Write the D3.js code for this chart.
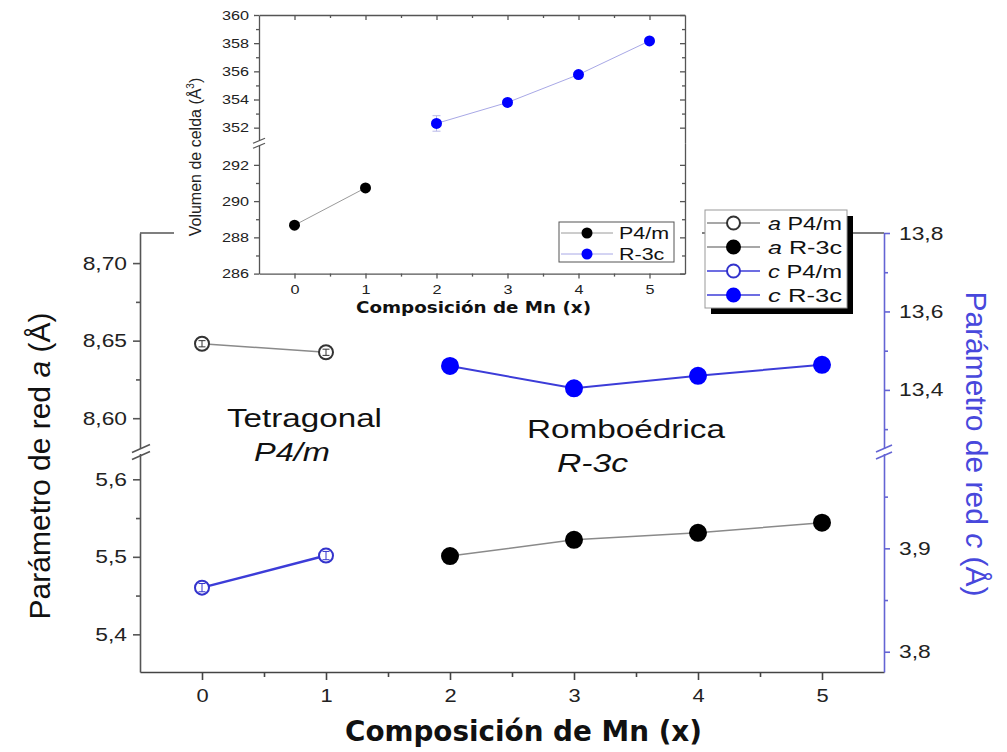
<!DOCTYPE html>
<html>
<head>
<meta charset="utf-8">
<script src="https://cdn.jsdelivr.net/npm/d3@7"></script>
<style>
  body { margin: 0; background: #fff; }
  svg { display: block; }
</style>
</head>
<body>
<svg id="chart" width="1007" height="752"></svg>
<script>
// ---- Data: Mn composition (x) ----
const compTetra = [0, 1];
const compRombo = [2, 3, 4, 5];

// lattice parameter a (Å)
const aP4m = [8.648, 8.6425];
const aP4mErr = [0.002, 0.002];
const aR3c = [5.501, 5.522, 5.531, 5.544];

// lattice parameter c (Å)
const cP4m = [3.862, 3.893];
const cP4mErr = [0.004, 0.004];
const cR3c = [13.461, 13.404, 13.436, 13.464];

// cell volume (Å³)
const volP4m = [288.67, 290.73];
const volR3c = [352.3, 353.79, 355.77, 358.16];
const volR3cErr = [0.55, 0.15, 0.15, 0.15];

// ---- Tick values / labels ----
const xTicks = [0, 1, 2, 3, 4, 5];
const xMinor = [0.5, 1.5, 2.5, 3.5, 4.5];
const aUpperTicks = [8.60, 8.65, 8.70];
const aUpperLabels = ["8,60", "8,65", "8,70"];
const aUpperMinor = [8.625, 8.675];
const aLowerTicks = [5.4, 5.5, 5.6];
const aLowerLabels = ["5,4", "5,5", "5,6"];
const aLowerMinor = [5.45, 5.55];
const cUpperTicks = [13.4, 13.6, 13.8];
const cUpperLabels = ["13,4", "13,6", "13,8"];
const cUpperMinor = [13.3, 13.5, 13.7];
const cLowerTicks = [3.8, 3.9];
const cLowerLabels = ["3,8", "3,9"];
const cLowerMinor = [3.85, 3.95];
const volUpperTicks = [352, 354, 356, 358, 360];
const volUpperMinor = [353, 355, 357, 359];
const volLowerTicks = [286, 288, 290, 292];
const volLowerMinor = [287, 289, 291];

const legendMain = [
  { sym: "a", name: " P4/m", line: "#8a8a8a", stroke: "#333", fill: "#fff" },
  { sym: "a", name: " R-3c", line: "#8a8a8a", stroke: "#000", fill: "#000" },
  { sym: "c", name: " P4/m", line: "#3c3cd8", stroke: "#3333cc", fill: "#fff" },
  { sym: "c", name: " R-3c", line: "#3c3cd8", stroke: "#0000ff", fill: "#0000ff" }
];
const legendInset = [
  { name: "P4/m", line: "#9a9a9a", fill: "#000" },
  { name: "R-3c", line: "#a8a8e6", fill: "#0000ff" }
];

const svg = d3.select("#chart");
const SANS = "'Liberation Sans', Arial, sans-serif";

// widen text horizontally by factor k, keeping its anchor
function stretch(sel, k) {
  sel.each(function () {
    const L = this.getComputedTextLength();
    d3.select(this).attr("textLength", L * k).attr("lengthAdjust", "spacingAndGlyphs");
  });
}

// ---- Main plot geometry ----
const L = 140, R = 884, T = 233, B = 672, BRK = 450;
const x = d3.scaleLinear([-0.5, 5.5], [L, R]);
const yAU = d3.scaleLinear([8.5795, 8.7194], [BRK, T]);
const yAL = d3.scaleLinear([5.3514, 5.6378], [B, BRK]);
const yCU = d3.scaleLinear([13.2468, 13.8], [BRK, T]);
const yCL = d3.scaleLinear([3.7804, 3.9951], [B, BRK]);

const axisGray = "#555";
const axisBlue = "#6464d4";

// top frame line
svg.append("line").attr("x1", L).attr("x2", R).attr("y1", T).attr("y2", T)
  .attr("stroke", axisGray).attr("stroke-width", 1.6);

function styleAxis(g, color, fs, k) {
  g.select(".domain").attr("stroke", color).attr("stroke-width", 1.6);
  g.selectAll(".tick line").attr("stroke", color).attr("stroke-width", 1.6);
  g.selectAll(".tick text").attr("fill", "#222").attr("font-family", SANS)
    .attr("font-size", fs).call(stretch, k);
}

// bottom axis
const gx = svg.append("g").attr("transform", `translate(0,${B})`)
  .call(d3.axisBottom(x).tickValues(xTicks).tickFormat(d3.format("d"))
    .tickSize(8).tickSizeOuter(0).tickPadding(9));
styleAxis(gx, "#444", 19, 1.15);
svg.append("g").attr("transform", `translate(0,${B})`)
  .call(d3.axisBottom(x).tickValues(xMinor).tickFormat("").tickSize(5).tickSizeOuter(0))
  .call(g => { g.select(".domain").remove(); g.selectAll("line").attr("stroke", "#444").attr("stroke-width", 1.6); });

// left axis (two segments)
function leftSeg(scale, ticks, labels, minor) {
  const g = svg.append("g").attr("transform", `translate(${L},0)`)
    .call(d3.axisLeft(scale).tickValues(ticks).tickFormat((d, i) => labels[i])
      .tickSize(7).tickSizeOuter(0).tickPadding(6));
  styleAxis(g, axisGray, 19, 1.2);
  svg.append("g").attr("transform", `translate(${L},0)`)
    .call(d3.axisLeft(scale).tickValues(minor).tickFormat("").tickSize(4).tickSizeOuter(0))
    .call(g => { g.select(".domain").remove(); g.selectAll("line").attr("stroke", axisGray).attr("stroke-width", 1.6); });
}
leftSeg(yAU, aUpperTicks, aUpperLabels, aUpperMinor);
leftSeg(yAL, aLowerTicks, aLowerLabels, aLowerMinor);

// right axis (two segments)
function rightSeg(scale, ticks, labels, minor) {
  const g = svg.append("g").attr("transform", `translate(${R},0)`)
    .call(d3.axisRight(scale).tickValues(ticks).tickFormat((d, i) => labels[i])
      .tickSize(6).tickSizeOuter(0).tickPadding(9));
  styleAxis(g, axisBlue, 19, 1.2);
  svg.append("g").attr("transform", `translate(${R},0)`)
    .call(d3.axisRight(scale).tickValues(minor).tickFormat("").tickSize(4).tickSizeOuter(0))
    .call(g => { g.select(".domain").remove(); g.selectAll("line").attr("stroke", axisBlue).attr("stroke-width", 1.6); });
}
rightSeg(yCU, cUpperTicks, cUpperLabels, cUpperMinor);
rightSeg(yCL, cLowerTicks, cLowerLabels, cLowerMinor);

// axis break marks
function breakMark(cx, cy, color, half, gap) {
  const g = svg.append("g");
  [-gap / 2, gap / 2].forEach(o => {
    g.append("line").attr("x1", cx - half).attr("y1", cy + o + half * 0.45)
      .attr("x2", cx + half).attr("y2", cy + o - half * 0.45)
      .attr("stroke", color).attr("stroke-width", 1.6);
  });
}
svg.append("rect").attr("x", L - 3).attr("y", BRK - 1).attr("width", 6).attr("height", 5).attr("fill", "#fff");
svg.append("rect").attr("x", R - 3).attr("y", BRK - 1).attr("width", 6).attr("height", 5).attr("fill", "#fff");
breakMark(L + 1, BRK + 2, axisGray, 9, 7);
breakMark(R, BRK + 2, axisBlue, 8, 7);

// ---- Series ----
function series(xs, ys, scale, lineColor, lw, stroke, fill, r, errs) {
  const line = d3.line().x((d, i) => x(xs[i])).y(d => scale(d));
  svg.append("path").datum(ys).attr("d", line).attr("fill", "none")
    .attr("stroke", lineColor).attr("stroke-width", lw);
  const g = svg.append("g");
  g.selectAll("circle").data(ys).join("circle")
    .attr("cx", (d, i) => x(xs[i])).attr("cy", d => scale(d)).attr("r", r)
    .attr("fill", fill).attr("stroke", stroke).attr("stroke-width", 2);
  if (errs) {
    ys.forEach((v, i) => {
      const cx = x(xs[i]), y1 = scale(v + errs[i]), y2 = scale(v - errs[i]);
      g.append("line").attr("x1", cx).attr("x2", cx).attr("y1", y1).attr("y2", y2)
        .attr("stroke", stroke).attr("stroke-width", 1);
      [y1, y2].forEach(yy => g.append("line").attr("x1", cx - 3.5).attr("x2", cx + 3.5)
        .attr("y1", yy).attr("y2", yy).attr("stroke", stroke).attr("stroke-width", 1));
    });
  }
}
series(compTetra, aP4m, yAU, "#8a8a8a", 1.5, "#333", "#fff", 7, aP4mErr);
series(compRombo, aR3c, yAL, "#8a8a8a", 1.5, "#000", "#000", 8, null);
series(compTetra, cP4m, yCL, "#3c3cd8", 2.5, "#3333cc", "#fff", 7, cP4mErr);
series(compRombo, cR3c, yCU, "#3c3cd8", 2, "#0000ff", "#0000ff", 8, null);

// ---- Phase annotations ----
function label(txt, x0, y0, len, italic) {
  svg.append("text").attr("x", x0).attr("y", y0).text(txt)
    .attr("font-family", SANS).attr("font-size", 26).attr("fill", "#111")
    .attr("font-style", italic ? "italic" : "normal")
    .attr("textLength", len).attr("lengthAdjust", "spacingAndGlyphs");
}
label("Tetragonal", 227, 427, 155, false);
label("P4/m", 254, 461, 76, true);
label("Romboédrica", 527, 438, 198, false);
label("R-3c", 557, 472, 71, true);

// ---- Axis titles ----
const tl = svg.append("text").attr("transform", "translate(50,466) rotate(-90)")
  .attr("text-anchor", "middle").attr("font-family", SANS).attr("font-size", 30).attr("fill", "#111");
tl.append("tspan").text("Parámetro de red ");
tl.append("tspan").text("a").attr("font-style", "italic");
tl.append("tspan").text(" (Å)");

const tr = svg.append("text").attr("transform", "translate(966,444) rotate(90)")
  .attr("text-anchor", "middle").attr("font-family", SANS).attr("font-size", 30).attr("fill", "#4848dc");
tr.append("tspan").text("Parámetro de red ");
tr.append("tspan").text("c").attr("font-style", "italic");
tr.append("tspan").text(" (Å)");

svg.append("text").attr("x", 345).attr("y", 741).text("Composición de Mn (x)")
  .attr("font-family", "'DejaVu Sans', Verdana, sans-serif").attr("font-weight", "bold")
  .attr("font-size", 29).attr("fill", "#111")
  .attr("textLength", 357).attr("lengthAdjust", "spacingAndGlyphs");

// ---- Main legend ----
svg.append("rect").attr("x", 711).attr("y", 216).attr("width", 142).attr("height", 98).attr("fill", "#000");
svg.append("rect").attr("x", 705).attr("y", 210).attr("width", 142).attr("height", 98)
  .attr("fill", "#fff").attr("stroke", "#999").attr("stroke-width", 1);
legendMain.forEach((d, i) => {
  const yy = 223 + i * 24;
  svg.append("line").attr("x1", 707).attr("x2", 760).attr("y1", yy).attr("y2", yy)
    .attr("stroke", d.line).attr("stroke-width", 1.6);
  svg.append("circle").attr("cx", 733.5).attr("cy", yy).attr("r", 6.5)
    .attr("fill", d.fill).attr("stroke", d.stroke).attr("stroke-width", 2);
  const t = svg.append("text").attr("x", 768).attr("y", yy + 7)
    .attr("font-family", SANS).attr("font-size", 19).attr("fill", "#111");
  t.append("tspan").text(d.sym).attr("font-style", "italic");
  t.append("tspan").text(d.name);
  t.attr("textLength", 74).attr("lengthAdjust", "spacingAndGlyphs");
});

// ---- Inset: cell volume ----
svg.append("rect").attr("x", 174).attr("y", 0).attr("width", 528).attr("height", 322).attr("fill", "#fff");

const IL = 259, IR = 685, IT = 15, IB = 273.6, IBRK = 143.3;
const ix = d3.scaleLinear([-0.5, 5.5], [IL, IR]);
const ivU = d3.scaleLinear([350.89, 360], [IBRK, IT]);
const ivL = d3.scaleLinear([286, 293.19], [IB, IBRK]);
const inset = svg.append("g");
const iGray = "#555";

function miniStyle(g, fs) {
  g.select(".domain").attr("stroke", iGray).attr("stroke-width", 1.3);
  g.selectAll(".tick line").attr("stroke", iGray).attr("stroke-width", 1.3);
  g.selectAll(".tick text").attr("fill", "#222").attr("font-family", SANS)
    .attr("font-size", fs).call(stretch, 1.2);
}
// top and right frame with inward mirror ticks
inset.append("g").attr("transform", `translate(0,${IT})`)
  .call(d3.axisTop(ix).tickValues(xTicks).tickFormat("").tickSize(-5).tickSizeOuter(0))
  .call(g => miniStyle(g, 13));
inset.append("g").attr("transform", `translate(0,${IT})`)
  .call(d3.axisTop(ix).tickValues(xMinor).tickFormat("").tickSize(-3).tickSizeOuter(0))
  .call(g => { g.select(".domain").remove(); g.selectAll("line").attr("stroke", iGray).attr("stroke-width", 1.3); });
[[ivU, volUpperTicks, volUpperMinor], [ivL, volLowerTicks, volLowerMinor]].forEach(([s, tk, mn]) => {
  inset.append("g").attr("transform", `translate(${IR},0)`)
    .call(d3.axisRight(s).tickValues(tk).tickFormat("").tickSize(-5).tickSizeOuter(0))
    .call(g => miniStyle(g, 13));
  inset.append("g").attr("transform", `translate(${IR},0)`)
    .call(d3.axisRight(s).tickValues(mn).tickFormat("").tickSize(-3).tickSizeOuter(0))
    .call(g => { g.select(".domain").remove(); g.selectAll("line").attr("stroke", iGray).attr("stroke-width", 1.3); });
  inset.append("g").attr("transform", `translate(${IL},0)`)
    .call(d3.axisLeft(s).tickValues(tk).tickSize(5).tickSizeOuter(0).tickPadding(5))
    .call(g => miniStyle(g, 13.5));
  inset.append("g").attr("transform", `translate(${IL},0)`)
    .call(d3.axisLeft(s).tickValues(mn).tickFormat("").tickSize(3).tickSizeOuter(0))
    .call(g => { g.select(".domain").remove(); g.selectAll("line").attr("stroke", iGray).attr("stroke-width", 1.3); });
});
inset.append("g").attr("transform", `translate(0,${IB})`)
  .call(d3.axisBottom(ix).tickValues(xTicks).tickFormat(d3.format("d")).tickSize(5).tickSizeOuter(0).tickPadding(6))
  .call(g => miniStyle(g, 13.5));
inset.append("g").attr("transform", `translate(0,${IB})`)
  .call(d3.axisBottom(ix).tickValues(xMinor).tickFormat("").tickSize(3).tickSizeOuter(0))
  .call(g => { g.select(".domain").remove(); g.selectAll("line").attr("stroke", iGray).attr("stroke-width", 1.3); });

// inset break mark
inset.append("rect").attr("x", IL - 3).attr("y", IBRK - 3).attr("width", 6).attr("height", 5).attr("fill", "#fff");
[-2.5, 2.5].forEach(o => inset.append("line")
  .attr("x1", IL - 6).attr("y1", IBRK + o + 2.5).attr("x2", IL + 6).attr("y2", IBRK + o - 2.5)
  .attr("stroke", iGray).attr("stroke-width", 1.2));

// inset series
function miniSeries(xs, ys, scale, lineColor, fill, errs, errColor) {
  inset.append("path").datum(ys)
    .attr("d", d3.line().x((d, i) => ix(xs[i])).y(d => scale(d)))
    .attr("fill", "none").attr("stroke", lineColor).attr("stroke-width", 1);
  if (errs) {
    ys.forEach((v, i) => {
      const cx = ix(xs[i]), y1 = scale(v + errs[i]), y2 = scale(v - errs[i]);
      inset.append("line").attr("x1", cx).attr("x2", cx).attr("y1", y1).attr("y2", y2)
        .attr("stroke", errColor).attr("stroke-width", 1);
      [y1, y2].forEach(yy => inset.append("line").attr("x1", cx - 4).attr("x2", cx + 4)
        .attr("y1", yy).attr("y2", yy).attr("stroke", errColor).attr("stroke-width", 1));
    });
  }
  inset.append("g").selectAll("circle").data(ys).join("circle")
    .attr("cx", (d, i) => ix(xs[i])).attr("cy", d => scale(d)).attr("r", 5.5).attr("fill", fill);
}
miniSeries(compTetra, volP4m, ivL, "#9a9a9a", "#000", null, null);
miniSeries(compRombo, volR3c, ivU, "#a8a8e6", "#0000ff", volR3cErr, "#b8b8e8");

// inset legend
inset.append("rect").attr("x", 559).attr("y", 222).attr("width", 115).attr("height", 40)
  .attr("fill", "#fff").attr("stroke", "#555").attr("stroke-width", 1);
legendInset.forEach((d, i) => {
  const yy = 233 + i * 21;
  inset.append("line").attr("x1", 561).attr("x2", 613).attr("y1", yy).attr("y2", yy)
    .attr("stroke", d.line).attr("stroke-width", 1);
  inset.append("circle").attr("cx", 587).attr("cy", yy).attr("r", 5.5).attr("fill", d.fill);
  inset.append("text").attr("x", 619).attr("y", yy + 6).text(d.name)
    .attr("font-family", SANS).attr("font-size", 16.5).attr("fill", "#111").call(stretch, 1.3);
});

// inset axis titles
const it = inset.append("text").attr("transform", "translate(201,157) rotate(-90)")
  .attr("text-anchor", "middle").attr("font-family", "'Liberation Sans Narrow', 'Liberation Sans', Arial, sans-serif")
  .attr("font-size", 16).attr("fill", "#222");
it.append("tspan").text("Volumen de celda (Å");
it.append("tspan").text("3").attr("font-size", 10).attr("dy", -7);
it.append("tspan").text(")").attr("dy", 7);

inset.append("text").attr("x", 356).attr("y", 313).text("Composición de Mn (x)")
  .attr("font-family", "'DejaVu Sans', Verdana, sans-serif").attr("font-weight", "bold")
  .attr("font-size", 16).attr("fill", "#111")
  .attr("textLength", 235).attr("lengthAdjust", "spacingAndGlyphs");
</script>
</body>
</html>
